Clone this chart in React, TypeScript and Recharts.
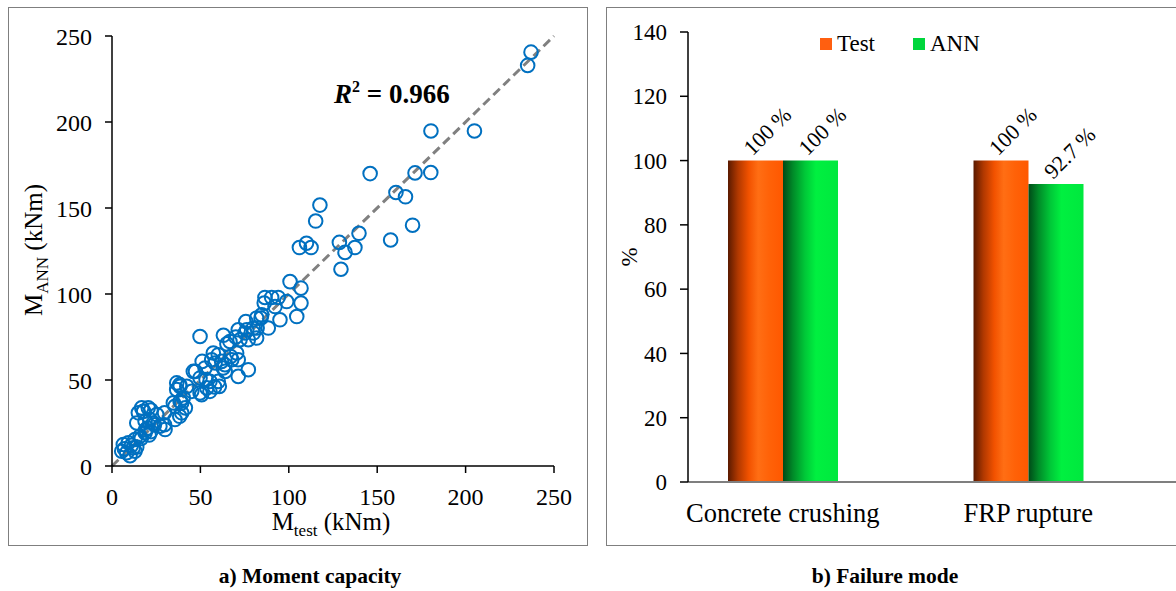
import React from 'react';
import { ScatterChart, Scatter, XAxis, YAxis, ReferenceLine, BarChart, Bar, LabelList, Legend } from 'recharts';

// a) moment capacity, test vs ANN (kNm)
const mTest = [
  6.4, 9.2, 5.5, 8.3, 12, 10.2, 13, 7, 11, 14, 13, 15.8, 18.7, 16.5, 14, 18.7, 23.4, 27.1, 30, 21.5,
  25.3, 16.8, 20.5, 14.9, 17.7, 22, 20, 22, 24, 29.7, 29.7, 17.9, 21, 19,
  35.6, 38.3, 39.4, 34.7, 35.6, 38.5, 40.3, 41.5, 39.4, 36.6, 36.6, 38.5, 38.3, 42.3, 45.1, 49.8,
  50.7, 53.6, 55.4, 46, 47.2, 52.6, 49.8, 55.4, 60.1, 53.2, 51, 60.7, 58, 57.3, 60.1, 62, 63.9,
  67.7, 70.5, 58.3, 56.4, 62.9, 64, 71.4, 77.1, 49.8, 63, 70, 65, 66.7, 67.1, 71.4,
  72.4, 77.1, 81.8, 75.2, 71.4, 76.2, 80, 79.9, 75.7, 82.1, 84.3, 81.8, 84.7, 88.4, 86.1, 86.5,
  90.3, 94, 92.2, 98.8, 95, 104.5, 106.9, 106.9, 100.7,
  106, 110, 112.6, 115.2, 117.6, 128.6, 129.5, 131.8, 137.4, 139.7, 146, 157.6, 160.6, 166, 170,
  171.4, 180.3, 180.4, 205, 235.1, 237,
];
const mAnn = [
  12.5, 13.5, 8.6, 7.7, 10.6, 6, 8.6, 10, 12, 11, 15.4, 17.3, 19.3, 16, 25, 26, 25, 23.1, 21.2, 27,
  29.9, 33.8, 33.8, 30.9, 31.8, 32.5, 22, 20, 24, 24, 30.9, 31.8, 18, 21,
  27, 28.9, 30.9, 36.7, 34.7, 37.6, 39.6, 33.8, 36.7, 44.4, 48.3, 46.3, 47.3, 46.3, 43.4, 42.5,
  41.5, 45.4, 43.4, 55, 55, 57, 51.2, 49.2, 49.2, 50.2, 60.8, 46.3, 46, 65.7, 64.7, 60.8, 58.9,
  61.8, 65.7, 59.9, 61.8, 57, 55, 52.1, 56, 75.3, 76, 75, 71, 72.4, 63.7, 61.8,
  73.4, 73.4, 74.4, 77.3, 79.2, 79.2, 77.3, 80.2, 84, 80.2, 86, 86, 87.9, 80.2, 94.7, 98,
  98, 98, 92.7, 95.6, 85, 86.9, 94.7, 103.4, 107.2,
  127, 129.5, 127, 142.4, 151.7, 130, 114.4, 124.2, 127, 135.3, 170, 131.4, 159, 156.5, 140,
  170.4, 170.6, 194.8, 194.8, 232.9, 240.6,
];
const momentTicks = [0, 50, 100, 150, 200, 250];
const r2 = '0.966';

// b) failure mode share (%)
const modes = ['Concrete crushing', 'FRP rupture'];
const testShare = [100, 100];
const annShare = [100, 92.7];
const shareTicks = [0, 20, 40, 60, 80, 100, 120, 140];

const FONT = '"Liberation Serif", "Times New Roman", serif';

const scatterData = mTest.map((x, i) => ({ x, y: mAnn[i] }));
const barData = modes.map((mode, i) => ({ mode, test: testShare[i], ann: annShare[i] }));

function Ring(props: any) {
  return <circle cx={props.cx} cy={props.cy} r={6.8} fill="none" stroke="#0070C0" strokeWidth={2} />;
}

function slantLabel(props: any) {
  const { x, y, width, value } = props;
  const ax = x + width / 2 - 3;
  const ay = y - 4;
  return (
    <text x={ax} y={ay} transform={`rotate(-45 ${ax} ${ay})`} fontSize={22} fontFamily={FONT} fill="#000">
      {`${value} %`}
    </text>
  );
}

function legendContent() {
  const item = (color: string, name: string, gap: number) => (
    <div style={{ display: 'flex', alignItems: 'center', marginRight: gap }}>
      <span style={{ width: 12, height: 12, background: color, display: 'inline-block', marginRight: 5 }} />
      <span>{name}</span>
    </div>
  );
  return (
    <div style={{ display: 'flex', alignItems: 'center', fontFamily: FONT, fontSize: 23, color: '#000', lineHeight: '24px' }}>
      {item('#ff5f10', 'Test', 38)}
      {item('#00d63c', 'ANN', 0)}
    </div>
  );
}

const panelBox: React.CSSProperties = {
  position: 'absolute',
  top: 7,
  height: 539,
  border: '1px solid #7f7f7f',
  boxSizing: 'border-box',
};

const caption: React.CSSProperties = {
  position: 'absolute',
  top: 564,
  fontFamily: FONT,
  fontWeight: 'bold',
  fontSize: 21.5,
  color: '#000',
  transform: 'translateX(-50%)',
  whiteSpace: 'nowrap',
};

export default function App() {
  return (
    <div style={{ position: 'absolute', left: 0, top: 0, width: 1176, height: 591, overflow: 'hidden', background: '#fff', fontFamily: FONT }}>
      <div style={{ ...panelBox, left: 8, width: 580 }} />
      <div style={{ ...panelBox, left: 606, width: 640 }} />

      <div style={{ position: 'absolute', left: 8, top: 7 }}>
        <ScatterChart width={580} height={539} margin={{ top: 29, right: 34, bottom: 0, left: 0 }}>
          <XAxis
            type="number"
            dataKey="x"
            domain={[0, 250]}
            ticks={momentTicks}
            height={80}
            tickSize={7}
            tickMargin={15}
            stroke="#000"
            strokeWidth={1.5}
            tick={{ fontSize: 24, fontFamily: FONT, fill: '#000' }}
            label={{
              content: () => (
                <text x={323} y={523} textAnchor="middle" fontSize={25} fontFamily={FONT} fill="#000">
                  M<tspan fontSize={17} dy={6}>test</tspan>
                  <tspan dy={-6}> (kNm)</tspan>
                </text>
              ),
            }}
          />
          <YAxis
            type="number"
            dataKey="y"
            domain={[0, 250]}
            ticks={momentTicks}
            width={104}
            tickSize={7}
            tickMargin={13}
            stroke="#000"
            strokeWidth={1.5}
            tick={{ fontSize: 24, fontFamily: FONT, fill: '#000' }}
            label={{
              content: () => (
                <text x={34} y={243} transform="rotate(-90 34 243)" textAnchor="middle" fontSize={25} fontFamily={FONT} fill="#000">
                  M<tspan fontSize={17} dy={6}>ANN</tspan>
                  <tspan dy={-6}> (kNm)</tspan>
                </text>
              ),
            }}
          />
          <ReferenceLine
            segment={[{ x: 0, y: 0 }, { x: 250, y: 250 }]}
            stroke="#808080"
            strokeWidth={3}
            strokeDasharray="9 5"
          />
          <Scatter data={scatterData} shape={Ring} isAnimationActive={false} />
        </ScatterChart>
      </div>

      <div style={{ position: 'absolute', left: 334, top: 79, fontFamily: FONT, fontSize: 27, fontWeight: 'bold', color: '#000', whiteSpace: 'nowrap' }}>
        <i>R</i>
        <span style={{ fontSize: 16, position: 'relative', top: -11 }}>2</span> = {r2}
      </div>

      <div style={{ position: 'absolute', left: 606, top: 7 }}>
        <BarChart
          width={600}
          height={539}
          data={barData}
          margin={{ top: 25, right: 0, bottom: 0, left: 0 }}
          barCategoryGap={68}
          barGap={0}
        >
          <defs>
            <linearGradient id="gradTest" x1="0" y1="0" x2="1" y2="0">
              <stop offset="0%" stopColor="#5a1a00" />
              <stop offset="18%" stopColor="#b03800" />
              <stop offset="38%" stopColor="#f25200" />
              <stop offset="55%" stopColor="#ff6e14" />
              <stop offset="75%" stopColor="#ff6208" />
              <stop offset="100%" stopColor="#ff5800" />
            </linearGradient>
            <linearGradient id="gradAnn" x1="0" y1="0" x2="1" y2="0">
              <stop offset="0%" stopColor="#004a18" />
              <stop offset="18%" stopColor="#008a28" />
              <stop offset="40%" stopColor="#00c838" />
              <stop offset="60%" stopColor="#00f040" />
              <stop offset="100%" stopColor="#00e83e" />
            </linearGradient>
          </defs>
          <XAxis
            dataKey="mode"
            height={64}
            padding={{ left: -28, right: 55 }}
            tickLine={false}
            tickSize={0}
            tickMargin={21}
            stroke="#7f7f7f"
            strokeWidth={2}
            tick={{ fontSize: 26.5, fontFamily: FONT, fill: '#000' }}
          />
          <YAxis
            domain={[0, 140]}
            ticks={shareTicks}
            width={82}
            tickSize={8}
            tickMargin={13}
            stroke="#000"
            strokeWidth={1.5}
            tick={{ fontSize: 23, fontFamily: FONT, fill: '#000' }}
            label={{
              content: () => (
                <text x={31} y={250} transform="rotate(-90 31 250)" textAnchor="middle" fontSize={23} fontFamily={FONT} fill="#000">
                  %
                </text>
              ),
            }}
          />
          <Legend
            layout="horizontal"
            verticalAlign="middle"
            align="center"
            content={legendContent}
            wrapperStyle={{ top: 25, left: 214, width: 'auto' }}
          />
          <Bar dataKey="test" name="Test" fill="url(#gradTest)" isAnimationActive={false}>
            <LabelList dataKey="test" content={slantLabel} />
          </Bar>
          <Bar dataKey="ann" name="ANN" fill="url(#gradAnn)" isAnimationActive={false}>
            <LabelList dataKey="ann" content={slantLabel} />
          </Bar>
        </BarChart>
      </div>

      <div style={{ ...caption, left: 310 }}>a) Moment capacity</div>
      <div style={{ ...caption, left: 885 }}>b) Failure mode</div>
    </div>
  );
}
